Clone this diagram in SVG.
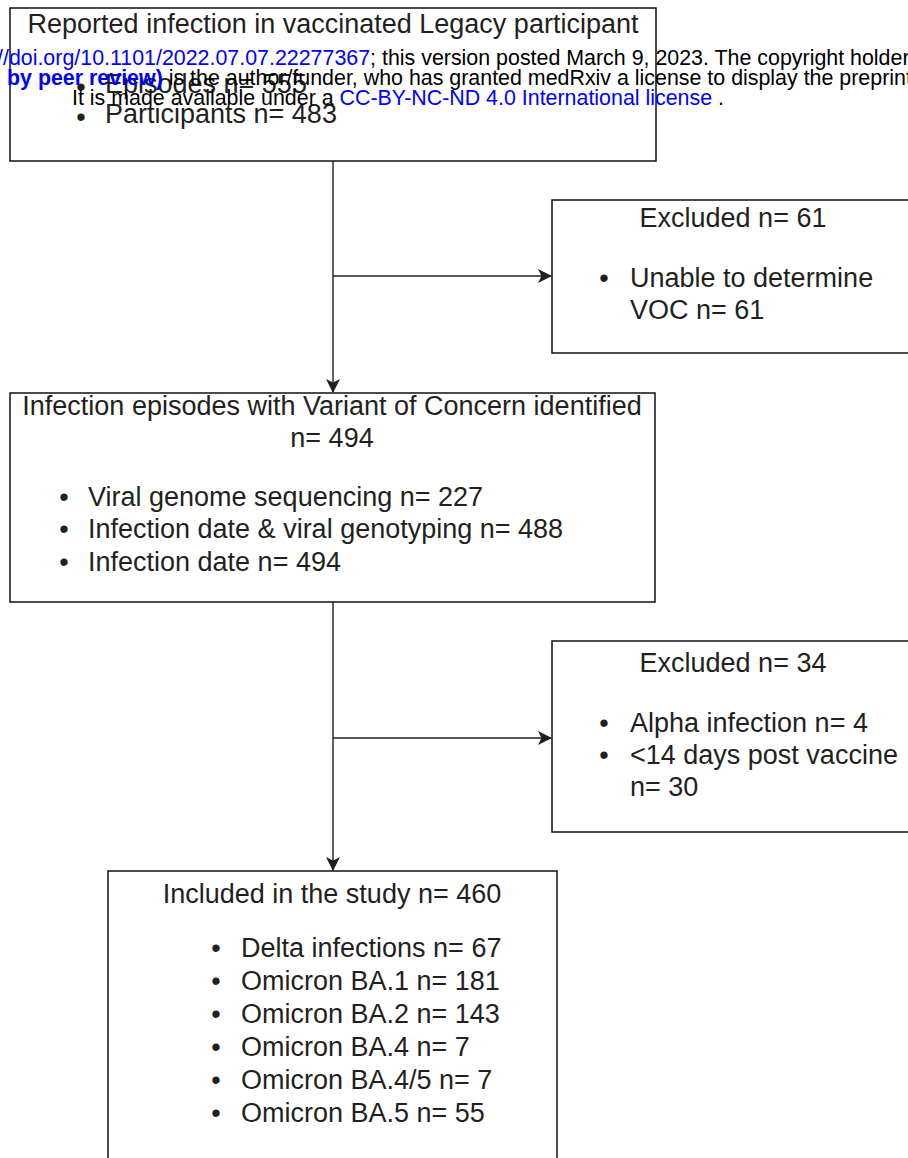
<svg xmlns="http://www.w3.org/2000/svg" width="908" height="1158" viewBox="0 0 908 1158">
<style>
.box{fill:#fff;stroke:#111;stroke-width:1.5}
.t{font-family:"Liberation Sans",Arial,sans-serif;font-size:27px;fill:#231f20}
.c{text-anchor:middle}
.w{font-family:"Liberation Sans",Arial,sans-serif;font-size:21.4px;fill:#000}
.b{fill:#00f}
.ln{stroke:#231f20;stroke-width:1.4;fill:none}
</style>
<defs>
<marker id="ah" markerWidth="14" markerHeight="14" refX="13" refY="7" orient="auto" markerUnits="userSpaceOnUse">
<path d="M0,0 L14,7 L0,14 L3.5,7 Z" fill="#231f20"/>
</marker>
</defs>
<g id="connectors">
<line class="ln" x1="333" y1="161" x2="333" y2="392" marker-end="url(#ah)"/>
<line class="ln" x1="333" y1="276" x2="551" y2="276" marker-end="url(#ah)"/>
<line class="ln" x1="333" y1="602" x2="333" y2="870" marker-end="url(#ah)"/>
<line class="ln" x1="333" y1="738" x2="551" y2="738" marker-end="url(#ah)"/>
</g>
<g id="node1">
<rect class="box" x="10" y="8" width="646" height="153"/>
<text class="t c" x="333" y="33">Reported infection in vaccinated Legacy participant</text>
<text class="t c" x="81" y="96">•</text><text class="t" x="105" y="93">Episodes n= 555</text>
<text class="t c" x="81" y="126">•</text><text class="t" x="105" y="123">Participants n= 483</text>
</g>
<g id="node2">
<rect class="box" x="552" y="200" width="358" height="153"/>
<text class="t c" x="733" y="227">Excluded n= 61</text>
<text class="t c" x="604" y="287">•</text><text class="t" x="630" y="287">Unable to determine</text>
<text class="t" x="630" y="319">VOC n= 61</text>
</g>
<g id="node3">
<rect class="box" x="10" y="393" width="645" height="209"/>
<text class="t c" x="332" y="415">Infection episodes with Variant of Concern identified</text>
<text class="t c" x="332" y="447">n= 494</text>
<text class="t c" x="64" y="506">•</text><text class="t" x="88" y="506">Viral genome sequencing n= 227</text>
<text class="t c" x="64" y="538">•</text><text class="t" x="88" y="538">Infection date &amp; viral genotyping n= 488</text>
<text class="t c" x="64" y="571">•</text><text class="t" x="88" y="571">Infection date n= 494</text>
</g>
<g id="node4">
<rect class="box" x="552" y="641" width="358" height="191"/>
<text class="t c" x="733" y="672">Excluded n= 34</text>
<text class="t c" x="604" y="732">•</text><text class="t" x="630" y="732">Alpha infection n= 4</text>
<text class="t c" x="604" y="764">•</text><text class="t" x="630" y="764">&lt;14 days post vaccine</text>
<text class="t" x="630" y="796">n= 30</text>
</g>
<g id="node5">
<rect class="box" x="108" y="871" width="449" height="300"/>
<text class="t c" x="332" y="903">Included in the study n= 460</text>
<text class="t c" x="216" y="957">•</text><text class="t" x="241" y="957">Delta infections n= 67</text>
<text class="t c" x="216" y="990">•</text><text class="t" x="241" y="990">Omicron BA.1 n= 181</text>
<text class="t c" x="216" y="1023">•</text><text class="t" x="241" y="1023">Omicron BA.2 n= 143</text>
<text class="t c" x="216" y="1056">•</text><text class="t" x="241" y="1056">Omicron BA.4 n= 7</text>
<text class="t c" x="216" y="1089">•</text><text class="t" x="241" y="1089">Omicron BA.4/5 n= 7</text>
<text class="t c" x="216" y="1122">•</text><text class="t" x="241" y="1122">Omicron BA.5 n= 55</text>
</g>
<g id="watermark">
<text class="w" x="-3" y="65"><tspan class="b">//doi.org/10.1101/2022.07.07.22277367</tspan>; this version posted March 9, 2023. The copyright holder</text>
<text class="w" x="7" y="85"><tspan class="b" font-weight="bold">by peer review)</tspan> is the author/funder, who has granted medRxiv a license to display the preprint</text>
<text class="w" x="72" y="105">It is made available under a <tspan class="b">CC-BY-NC-ND 4.0 International license</tspan> .</text>
</g>
</svg>
